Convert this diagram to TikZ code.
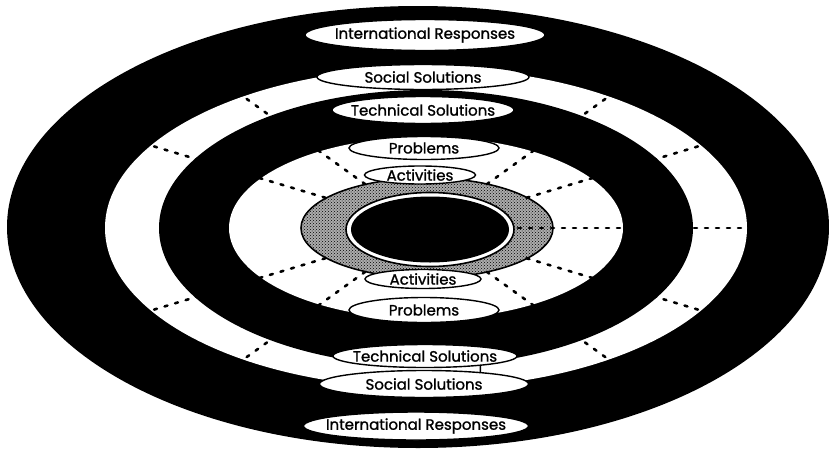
\documentclass[tikz,border=0pt]{standalone}
\usepackage{fontspec}
\setmainfont{Poppins}
\newfontfamily\lblfont{Poppins}[FakeBold=1.2]
\usetikzlibrary{shapes,calc,patterns}

\begin{document}
\begin{tikzpicture}[x=1pt, y=-1pt,
    lbl/.style={
            draw,
            ellipse,
            fill=white,
            line width=1.4pt,
            inner xsep=-40pt,
            inner ysep=-12pt,
            font=\lblfont\fontsize{15}{15}\selectfont
        },
    ray/.style={
            line width=2.6pt,
            dash pattern=on 3pt off 8pt,
            line cap=round
        }
]
    \useasboundingbox (0,0) rectangle (829,450);
    \coordinate (c) at (426,228);
    \coordinate (core) at (430,229.5);

    % rings, outside in
    \fill[black] (418,227) ellipse [x radius=411pt, y radius=221pt];
    \fill[white] (c) ellipse [x radius=321pt, y radius=160pt];
    \fill[black] (c) ellipse [x radius=267pt, y radius=138pt];
    \fill[white] (c) ellipse [x radius=197pt, y radius=91pt];
    \filldraw[fill=gray!65, line width=1.6pt] (427,228) ellipse [x radius=126pt, y radius=50pt];
    \fill[pattern=crosshatch dots, pattern color=black] (427,228) ellipse [x radius=125pt, y radius=49pt];
    \filldraw[fill=white, line width=1.6pt] (core) ellipse [x radius=84pt, y radius=37pt];
    \fill[black] (core) ellipse [x radius=79pt, y radius=33pt];

    % dotted spokes
    \foreach \sx in {1,-1}
        \foreach \sy in {1,-1} {
            \draw[ray] ($(c)+(\sx*100.5,\sy*30.2)$) -- ($(c)+(\sx*275,\sy*82.5)$);
            \draw[ray] ($(c)+(\sx*60.8,\sy*43.8)$) -- ($(c)+(\sx*182.7,\sy*131.5)$);
        }
    \draw[ray] ($(c)+(92,0)$) -- ($(c)+(321,0)$);

    \node[lbl, minimum width=240pt, minimum height=31pt] (irT) at (425,35) {International Responses};
    \node[lbl, minimum width=212pt, minimum height=25pt] (ssT) at (423,77) {Social Solutions};
    \node[lbl, minimum width=182pt, minimum height=27pt] (tsT) at (423,110) {Technical Solutions};
    \node[lbl, minimum width=150pt, minimum height=23pt] (prT) at (424,148) {Problems};
    \node[lbl, minimum width=111pt, minimum height=18pt] (acT) at (420,175) {Activities};
    \node[lbl, minimum width=116pt, minimum height=19pt] (acB) at (423,279) {Activities};
    \node[lbl, minimum width=150pt, minimum height=25pt] (prB) at (424,310) {Problems};
    \node[lbl, minimum width=184pt, minimum height=23pt] (tsB) at (425,356) {Technical Solutions};
    \node[lbl, minimum width=209pt, minimum height=27pt] (ssB) at (424,384) {Social Solutions};
    \node[lbl, minimum width=225pt, minimum height=28pt] (irB) at (416,426) {International Responses};

    \draw[line width=1.4pt] (tsB.-10) -- (ssB.12);
\end{tikzpicture}
\end{document}
